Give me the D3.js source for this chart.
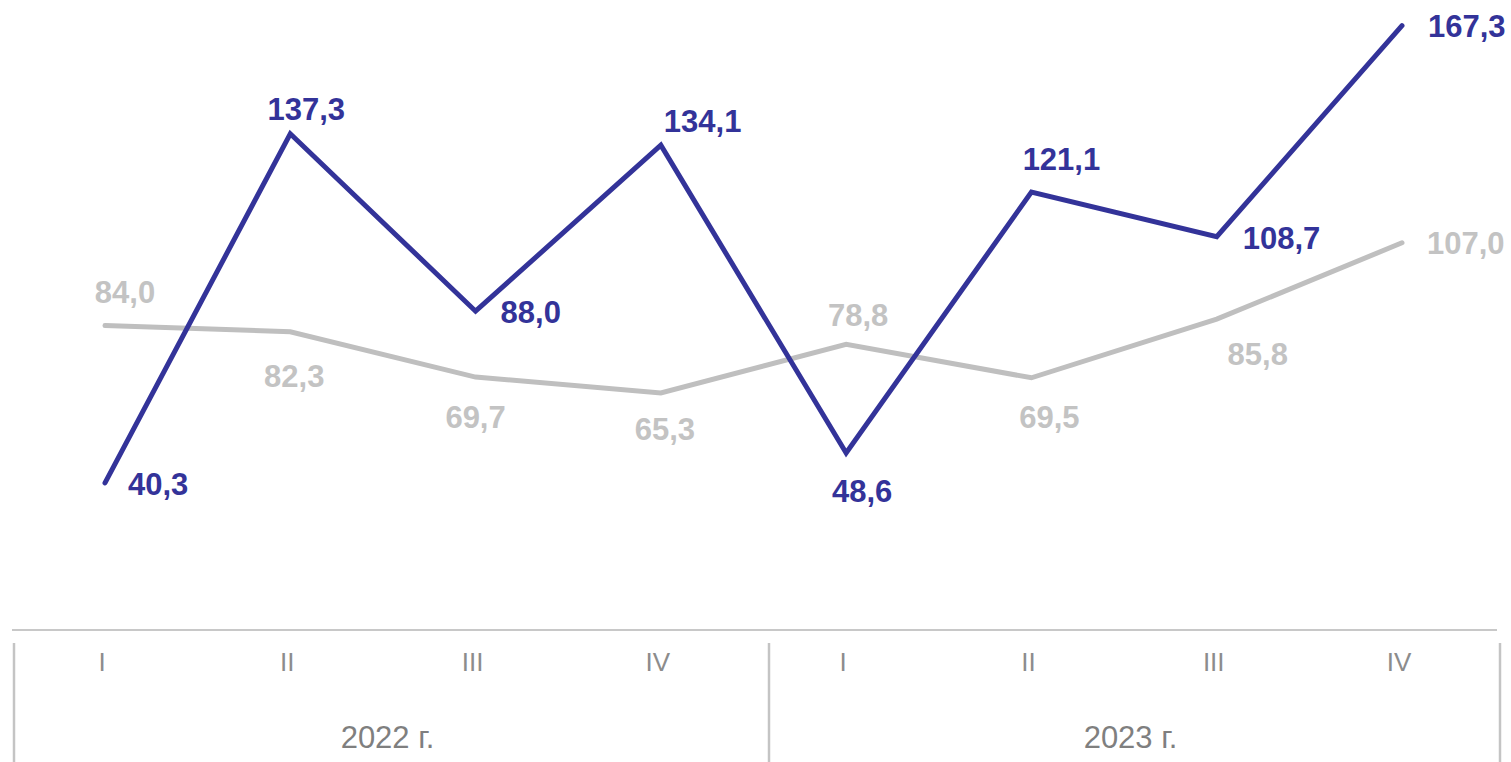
<!DOCTYPE html>
<html>
<head>
<meta charset="utf-8">
<script src="https://cdn.jsdelivr.net/npm/d3@7"></script>
<style>
  html, body { margin: 0; padding: 0; background: #fff; }
  svg { display: block; font-family: "Liberation Sans", Arial, sans-serif; }
</style>
</head>
<body>
<div id="chart"></div>
<script>
// quarters and years
var quarters = ["I", "II", "III", "IV", "I", "II", "III", "IV"];
var years = ["2022 г.", "2023 г."];

// series values
var blueValues = [40.3, 137.3, 88.0, 134.1, 48.6, 121.1, 108.7, 167.3];
var grayValues = [84.0, 82.3, 69.7, 65.3, 78.8, 69.5, 85.8, 107.0];

// label placement: [anchor, dx, dy] relative to each point
var bluePlace = [["start", 23, 12], ["middle", 16, -14], ["start", 25, 12], ["start", 3, -13],
                 ["middle", 16, 49], ["middle", 30, -22], ["start", 26, 12], ["start", 26, 11]];
var grayPlace = [["middle", 20, -23], ["middle", 4, 55], ["middle", 0, 51], ["middle", 4, 47],
                 ["middle", 12, -18], ["middle", 18, 50], ["middle", 41, 46], ["start", 25, 11]];

var width = 1511,
    height = 762;

var svg = d3.select("#chart").append("svg")
    .attr("width", width)
    .attr("height", height);

var x = d3.scalePoint()
    .domain(d3.range(quarters.length))
    .range([105, 1402]);

var y = d3.scaleLinear()
    .domain([0, 170])
    .range([628, 16]);

var fmt = function(v) { return d3.format(".1f")(v).replace(".", ","); };

// axis line and group separators
svg.append("line")
    .attr("x1", 12).attr("x2", 1497)
    .attr("y1", 630).attr("y2", 630)
    .attr("stroke", "#c8c8c8").attr("stroke-width", 2);

var groupEdges = [14, 769, 1500];
svg.selectAll("line.sep")
    .data(groupEdges)
    .enter().append("line")
    .attr("class", "sep")
    .attr("x1", function(d) { return d; })
    .attr("x2", function(d) { return d; })
    .attr("y1", 643).attr("y2", height)
    .attr("stroke", "#c4c4c4").attr("stroke-width", 2.5);

svg.selectAll("text.q")
    .data(quarters)
    .enter().append("text")
    .attr("class", "q")
    .attr("x", function(d, i) { return x(i) - 3; })
    .attr("y", 671)
    .attr("text-anchor", "middle")
    .attr("font-size", 26)
    .attr("fill", "#8c8c8c")
    .text(function(d) { return d; });

svg.selectAll("text.year")
    .data(years)
    .enter().append("text")
    .attr("class", "year")
    .attr("x", function(d, i) { return (groupEdges[i] + groupEdges[i + 1]) / 2 - 4; })
    .attr("y", 748)
    .attr("text-anchor", "middle")
    .attr("font-size", 31)
    .attr("fill", "#7f7f7f")
    .text(function(d) { return d; });

var line = d3.line()
    .x(function(d, i) { return x(i); })
    .y(function(d) { return y(d); });

function drawSeries(values, place, color, labelColor) {
  svg.append("path")
      .datum(values)
      .attr("d", line)
      .attr("fill", "none")
      .attr("stroke", color)
      .attr("stroke-width", 5)
      .attr("stroke-linecap", "round");

  svg.append("g").selectAll("text")
      .data(values)
      .enter().append("text")
      .attr("x", function(d, i) { return x(i) + place[i][1]; })
      .attr("y", function(d, i) { return y(d) + place[i][2]; })
      .attr("text-anchor", function(d, i) { return place[i][0]; })
      .attr("font-size", 31)
      .attr("font-weight", "bold")
      .attr("fill", labelColor)
      .text(fmt);
}

drawSeries(grayValues, grayPlace, "#bfbfbf", "#c3c3c3");
drawSeries(blueValues, bluePlace, "#333399", "#333399");
</script>
</body>
</html>
